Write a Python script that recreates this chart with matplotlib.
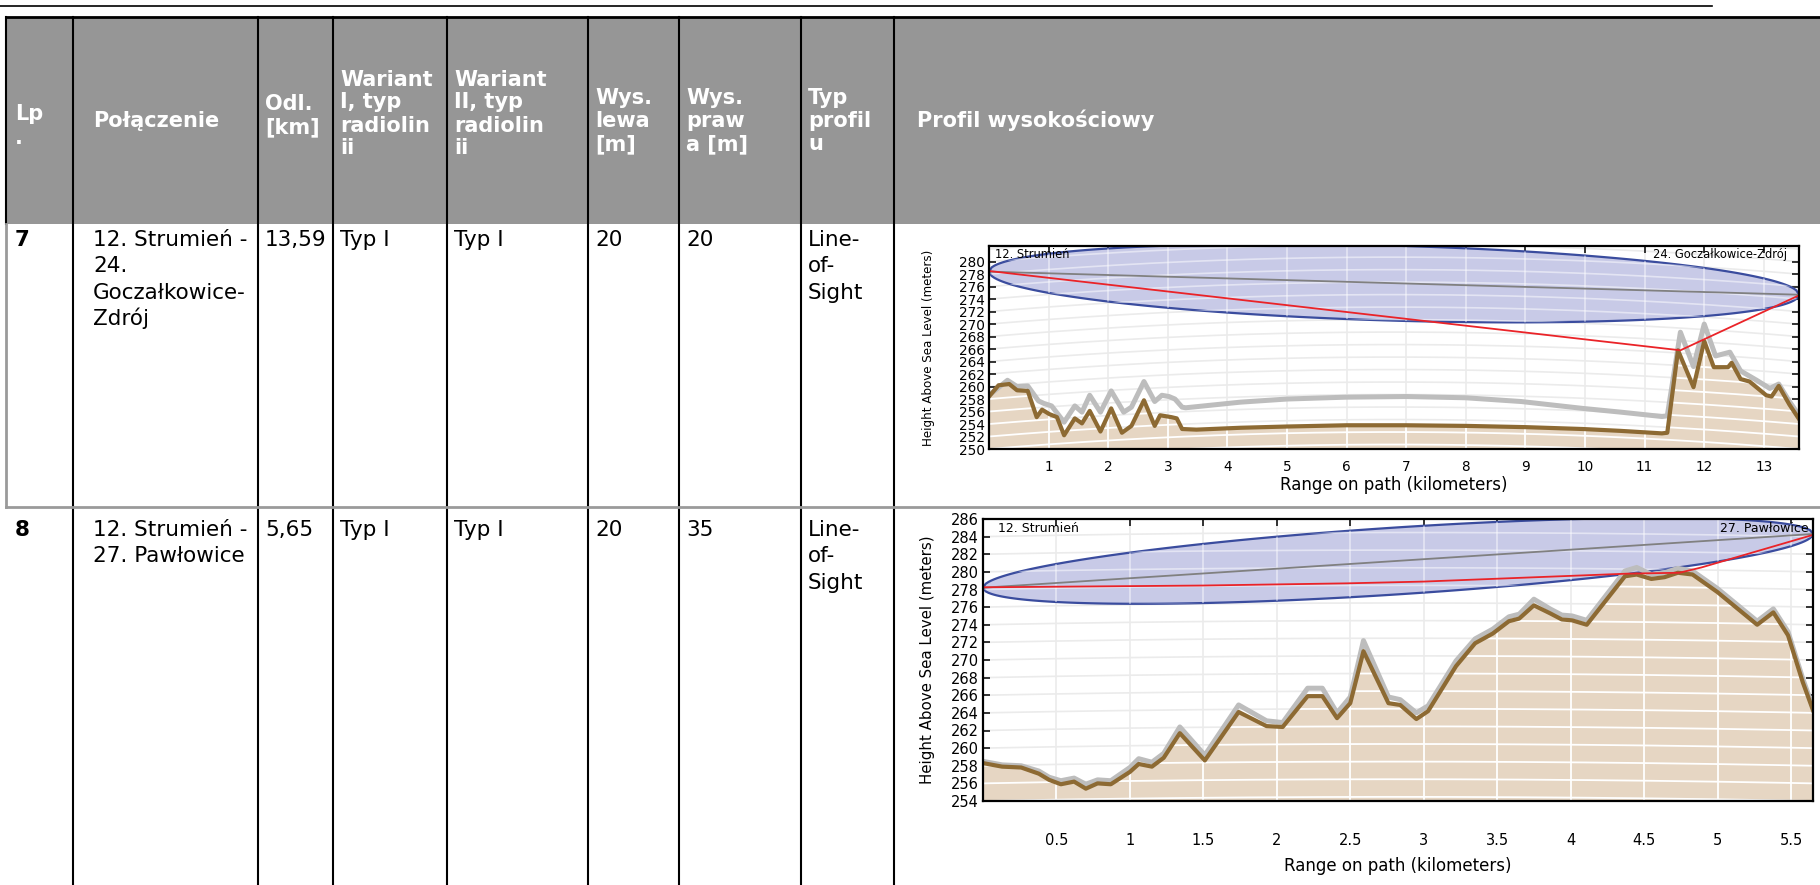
import numpy as np
import matplotlib
matplotlib.use("Agg")
import matplotlib.pyplot as plt
from matplotlib.lines import Line2D
from matplotlib.patches import Rectangle, Polygon

# ---------------- table content ----------------
columns = ["Lp\n.", "Połączenie", "Odl.\n[km]", "Wariant\nI, typ\nradiolin\nii",
           "Wariant\nII, typ\nradiolin\nii", "Wys.\nlewa\n[m]", "Wys.\npraw\na [m]",
           "Typ\nprofil\nu", "Profil wysokościowy"]
row_7 = ["7", "12. Strumień -\n24.\nGoczałkowice-\nZdrój", "13,59", "Typ I", "Typ I",
         "20", "20", "Line-\nof-\nSight"]
row_8 = ["8", "12. Strumień -\n27. Pawłowice", "5,65", "Typ I", "Typ I",
         "20", "35", "Line-\nof-\nSight"]

# ---------------- profile 7: Strumień - Goczałkowice-Zdrój ----------------
p7_length = 13.59
p7_ends = ["12. Strumień", "24. Goczałkowice-Zdrój"]
p7_terrain_km = [0.00, 0.16, 0.34, 0.47, 0.65, 0.80, 0.89, 1.01, 1.14, 1.26, 1.44, 1.56,
                 1.69, 1.87, 2.05, 2.23, 2.39, 2.60, 2.78, 2.87, 3.06, 3.15, 3.24, 3.48,
                 4.22, 5.0, 6.0, 7.0, 8.0, 9.0, 9.96, 10.6, 11.29, 11.38, 11.56, 11.82,
                 12.0, 12.16, 12.40, 12.46, 12.61, 12.76, 13.04, 13.13, 13.25, 13.43, 13.59]
p7_terrain_m = [258.4, 260.2, 260.4, 259.4, 259.3, 255.1, 256.3, 255.6, 255.1, 252.2, 254.9, 254.1,
                256.1, 252.8, 256.5, 252.6, 253.7, 257.8, 253.7, 255.4, 255.1, 254.9, 253.2, 253.1,
                253.4, 253.6, 253.8, 253.8, 253.7, 253.5, 253.2, 252.9, 252.5, 252.6, 265.8, 259.9,
                267.3, 263.1, 263.1, 263.8, 261.2, 260.8, 258.6, 258.4, 260.1, 257.1, 254.8]
p7_clutter_km = [0.00, 0.31, 0.47, 0.65, 0.83, 0.92, 1.05, 1.26, 1.44, 1.56, 1.69, 1.87,
                 2.05, 2.26, 2.39, 2.60, 2.78, 2.90, 3.02, 3.12, 3.24, 3.30, 4.22, 5.0,
                 6.0, 7.0, 8.0, 8.93, 9.96, 10.6, 11.29, 11.38, 11.60, 11.82, 12.0, 12.19,
                 12.43, 12.61, 12.88, 13.10, 13.25, 13.43, 13.59]
p7_clutter_m = [258.6, 261.0, 260.0, 260.1, 257.7, 257.3, 256.9, 254.3, 256.9, 255.9, 258.6, 255.9,
                259.3, 255.9, 256.7, 260.8, 257.6, 258.6, 258.4, 258.0, 256.7, 256.6, 257.5, 258.0,
                258.3, 258.4, 258.2, 257.6, 256.5, 255.9, 255.2, 255.3, 268.7, 263.2, 270.0, 264.9,
                265.5, 262.5, 261.0, 259.7, 260.4, 257.6, 255.4]
p7_los_m = [278.4, 274.7]
p7_red_km = [0.0, 11.6, 13.59]
p7_red_m = [278.5, 265.8, 274.6]
p7_fresnel_m = 6.0
p7_xticks = [1, 2, 3, 4, 5, 6, 7, 8, 9, 10, 11, 12, 13]
p7_yticks = list(range(250, 281, 2))
p7_ylim = (250, 282.5)

# ---------------- profile 8: Strumień - Pawłowice ----------------
p8_length = 5.65
p8_ends = ["12. Strumień", "27. Pawłowice"]
p8_terrain_km = [0.00, 0.13, 0.26, 0.38, 0.45, 0.53, 0.62, 0.70, 0.78, 0.87, 1.00, 1.06,
                 1.15, 1.23, 1.34, 1.51, 1.74, 1.93, 2.04, 2.21, 2.31, 2.41, 2.50, 2.59,
                 2.76, 2.84, 2.95, 3.03, 3.22, 3.35, 3.47, 3.58, 3.65, 3.75, 3.86, 3.94,
                 4.01, 4.11, 4.37, 4.45, 4.55, 4.64, 4.73, 4.83, 5.00, 5.27, 5.38, 5.48,
                 5.58, 5.65]
p8_terrain_m = [258.3, 257.9, 257.8, 257.1, 256.4, 255.9, 256.2, 255.4, 256.0, 255.9, 257.3, 258.2,
                257.9, 258.9, 261.7, 258.6, 264.1, 262.5, 262.4, 265.9, 265.9, 263.4, 265.1, 271.0,
                265.1, 264.9, 263.3, 264.2, 269.3, 271.9, 273.0, 274.4, 274.7, 276.2, 275.3, 274.6,
                274.5, 274.0, 279.5, 279.7, 279.2, 279.4, 279.9, 279.7, 277.7, 274.0, 275.4, 272.8,
                267.5, 264.3]
p8_clutter_m = [258.5, 258.1, 258.0, 257.4, 256.7, 256.3, 256.6, 255.9, 256.4, 256.3, 257.8, 258.8,
                258.4, 259.4, 262.4, 259.2, 264.9, 263.1, 262.9, 266.8, 266.8, 264.0, 265.8, 272.2,
                265.8, 265.5, 264.0, 264.8, 269.9, 272.4, 273.5, 274.9, 275.2, 276.9, 275.8, 275.1,
                275.0, 274.5, 280.1, 280.5, 279.7, 279.9, 280.4, 280.1, 278.1, 274.4, 275.8, 273.2,
                267.9, 264.6]
p8_los_m = [278.2, 284.3]
p8_red_km = [0.0, 1.49, 2.48, 3.0, 4.39, 4.74, 4.89, 5.65]
p8_red_m = [278.25, 278.45, 278.7, 278.9, 279.8, 279.9, 280.5, 284.2]
p8_fresnel_m = 3.8
p8_xticks = [0.5, 1, 1.5, 2, 2.5, 3, 3.5, 4, 4.5, 5, 5.5]
p8_yticks = list(range(254, 287, 2))
p8_ylim = (254, 286)

EARTH_R_KM = 6371.0
K_FACTOR = 4.0 / 3.0

W, H = 1820, 885
fig = plt.figure(figsize=(W / 100, H / 100), dpi=100)
plt.rcParams["font.family"] = "DejaVu Sans"


def hline(y, x0, x1, color="black", lw=1.5):
    fig.add_artist(Line2D([x0 / W, x1 / W], [1 - y / H, 1 - y / H], color=color, lw=lw))


def vline(x, y0, y1, color="black", lw=1.5):
    fig.add_artist(Line2D([x / W, x / W], [1 - y0 / H, 1 - y1 / H], color=color, lw=lw))


def put_lines(x, baselines, text, **kw):
    for y, line in zip(baselines, text.split("\n")):
        fig.text(x / W, 1 - y / H, line, ha="left", va="baseline", **kw)


# ---------------- table frame ----------------
col_lines = [73, 258, 333, 447, 588, 679, 801, 894]
text_x = [15, 93, 265, 340, 454, 595, 686, 808, 917]
head_centers = [125, 120, 115, 113, 113, 120, 120, 120, 120]
header_top, header_bottom, row_split = 17, 224, 507

hline(6, 0, 1712, lw=1.2)
fig.add_artist(Rectangle((6 / W, 1 - header_bottom / H), (W - 6) / W,
                         (header_bottom - header_top) / H, facecolor="#969696",
                         edgecolor="none"))
hline(header_top, 6, W, lw=2)
vline(6, header_top, header_bottom, lw=1.5)
vline(6, header_bottom, row_split, color="#9a9a9a", lw=2)
for x in col_lines:
    vline(x, header_top, H, lw=1.5)
hline(row_split, 6, W, color="#9a9a9a", lw=2)

head_step = 23
for x, c, txt in zip(text_x, head_centers, columns):
    n = txt.count("\n") + 1
    first = c - (n - 1) * head_step / 2 + 7
    put_lines(x, [first + k * head_step for k in range(n)], txt, fontsize=15,
              fontweight="bold", color="white")

for row, first, step in [(row_7, 246, 26.3), (row_8, 536, 26.3)]:
    for i, (x, txt) in enumerate(zip(text_x, row)):
        n = txt.count("\n") + 1
        put_lines(x, [first + k * step for k in range(n)], txt, fontsize=15.5,
                  fontweight="bold" if i == 0 else "normal", color="black")


# ---------------- profile charts ----------------
def draw_profile(box, length, ylim, xticks, yticks, terrain_km, terrain_m, clutter_km,
                 clutter_m, los_m, red_km, red_m, fresnel_m, ends, sizes, pads):
    left, top, right, bottom = box
    tick_fs, end_fs, ylab_fs = sizes
    xpad, xlab_top, end_x = pads
    ax = fig.add_axes([left / W, 1 - bottom / H, (right - left) / W, (bottom - top) / H])
    ax.set_xlim(0, length)
    ax.set_ylim(*ylim)

    xs = np.linspace(0, length, 300)
    bulge = xs * (length - xs) / (2 * K_FACTOR * EARTH_R_KM) * 1000.0

    # terrain and fresnel zone shapes
    low = ylim[0] - 10
    terr = Polygon(np.column_stack([terrain_km + [terrain_km[-1], terrain_km[0]],
                                    terrain_m + [low, low]]),
                   closed=True, facecolor="#e6d6c3", edgecolor="none", zorder=2)
    ax.add_patch(terr)
    los = los_m[0] + (los_m[1] - los_m[0]) * xs / length
    rad = fresnel_m * np.sqrt(np.clip(4 * xs * (length - xs), 0, None)) / length
    ell_xy = np.vstack([np.column_stack([xs, los + rad]),
                        np.column_stack([xs[::-1], (los - rad)[::-1]])])
    ell = Polygon(ell_xy, closed=True, facecolor="#c8cae7", edgecolor="#3a4c9e",
                  lw=1.6, zorder=4)
    ax.add_patch(ell)

    # curved earth grid
    levels = np.arange(ylim[0] - 6, ylim[1] + 2, 2)
    for lev in levels:
        ax.plot(xs, lev + bulge, color="#ebebeb", lw=1.2, zorder=1)
        ln = ax.plot(xs, lev + bulge, color="white", lw=1.3, zorder=3)[0]
        ln.set_clip_path(terr)
        ln2 = ax.plot(xs, lev + bulge, color="white", lw=1.2, alpha=0.5, zorder=5)[0]
        ln2.set_clip_path(ell)
    for t in xticks:
        ax.axvline(t, color="#ebebeb", lw=1.2, zorder=1)
        ln = ax.axvline(t, color="white", lw=1.3, zorder=3)
        ln.set_clip_path(terr)
        ln2 = ax.axvline(t, color="white", lw=1.2, alpha=0.5, zorder=5)
        ln2.set_clip_path(ell)

    ax.plot(clutter_km, clutter_m, color="#bdbdbd", lw=3.6, zorder=6,
            solid_joinstyle="round")
    ax.plot(terrain_km, terrain_m, color="#8d6a33", lw=3.0, zorder=7,
            solid_joinstyle="round")
    ax.plot([0, length], los_m, color="#808080", lw=1.3, zorder=8)
    ax.plot(red_km, red_m, color="#ea2328", lw=1.3, zorder=9)

    ax.text(end_x[0], 0.99, ends[0], transform=ax.transAxes, ha="left", va="top",
            fontsize=end_fs, zorder=10)
    ax.text(end_x[1], 0.99, ends[1], transform=ax.transAxes, ha="right", va="top",
            fontsize=end_fs, zorder=10)

    ax.set_xticks(xticks)
    ax.set_xticklabels([("%g" % t) for t in xticks])
    ax.set_yticks(yticks)
    ax.tick_params(direction="in", top=True, right=True, length=5, width=1.1,
                   labelsize=tick_fs, pad=3)
    ax.tick_params(axis="x", pad=xpad)
    for s in ax.spines.values():
        s.set_linewidth(1.6)
        s.set_zorder(12)
    ax.set_xlabel("Range on path (kilometers)", fontsize=12)
    ax.xaxis.set_label_coords(0.5, (bottom - xlab_top) / (bottom - top))
    ax.set_ylabel("Height Above Sea Level (meters)", fontsize=ylab_fs)
    ax.yaxis.set_label_coords((935 - left) / (right - left), 0.5)
    return ax


draw_profile((989, 246, 1799, 449), p7_length, p7_ylim, p7_xticks, p7_yticks,
             p7_terrain_km, p7_terrain_m, p7_clutter_km, p7_clutter_m, p7_los_m,
             p7_red_km, p7_red_m, p7_fresnel_m, p7_ends, (9.8, 8.3, 8.6),
             (8, 476, (0.008, 0.985)))
draw_profile((983, 519, 1813, 801), p8_length, p8_ylim, p8_xticks, p8_yticks,
             p8_terrain_km, p8_terrain_m, p8_terrain_km, p8_clutter_m, p8_los_m,
             p8_red_km, p8_red_m, p8_fresnel_m, p8_ends, (10.5, 9, 10.8),
             (23, 857, (0.018, 0.995)))

fig.savefig("out.png", dpi=100)
